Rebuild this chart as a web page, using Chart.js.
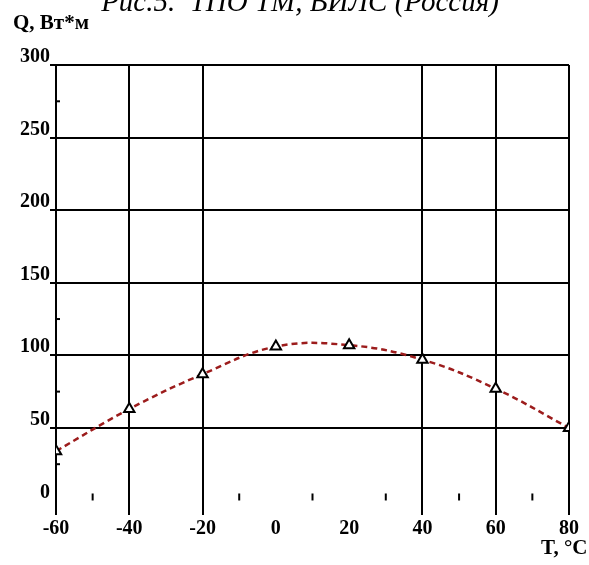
<!DOCTYPE html>
<html lang="ru">
<head>
  <meta charset="UTF-8">
  <title>Рис.5</title>
  <script src="https://cdn.jsdelivr.net/npm/chart.js"></script>
  <style>
    html, body { margin: 0; padding: 0; background: #fff; overflow: hidden; }
    #wrap { position: relative; width: 589px; height: 565px; }
    .lbl { position: absolute; font-family: "Liberation Serif", serif; color: #000; white-space: nowrap; }
    #title { top: -15px; left: 0; width: 600px; text-align: center; font-size: 29px; font-style: italic; }
    #ylab { top: 10px; left: 13px; font-size: 21px; font-weight: bold; }
    #xlab { top: 535px; left: 541px; font-size: 21px; font-weight: bold; }
  </style>
</head>
<body>
<div id="wrap">
  <canvas id="chart" width="589" height="565"></canvas>
  <div class="lbl" id="title">Рис.5.&nbsp; ТПО ТМ, ВИЛС (Россия)</div>
  <div class="lbl" id="ylab">Q, Вт*м</div>
  <div class="lbl" id="xlab">T, °C</div>
</div>
<script>
  const temps = [-60, -40, -20, 0, 20, 40, 60, 80];
  const heat = [34, 63, 87, 106, 107, 97, 77, 50];
  const xTicks = [-60, -40, -20, 0, 20, 40, 60, 80];
  const yTicks = [0, 50, 100, 150, 200, 250, 300];
  const xMinor = [-50, -10, 10, 30, 50, 70];
  const yMinor = [25, 75, 125, 275];
  const noGridX = [0, 20];

  const tickFont = { family: 'Liberation Serif', size: 20, weight: 'bold' };

  // short marks on the axes between the labelled ticks
  const minorMarks = {
    id: 'minorMarks',
    afterDatasetsDraw(chart) {
      const { ctx, scales: { x, y } } = chart;
      ctx.save();
      ctx.strokeStyle = '#000';
      ctx.lineWidth = 2;
      const y0 = y.getPixelForValue(0);
      xMinor.forEach(v => {
        const px = x.getPixelForValue(v);
        ctx.beginPath();
        ctx.moveTo(px, y0 - 7);
        ctx.lineTo(px, y0);
        ctx.stroke();
      });
      const x0 = x.getPixelForValue(-60);
      yMinor.forEach(v => {
        const py = y.getPixelForValue(v);
        ctx.beginPath();
        ctx.moveTo(x0, py);
        ctx.lineTo(x0 + 4, py);
        ctx.stroke();
      });
      ctx.restore();
    }
  };

  new Chart(document.getElementById('chart'), {
    type: 'line',
    data: {
      datasets: [{
        data: temps.map((t, i) => ({ x: t, y: heat[i] })),
        borderColor: '#9c1c1c',
        borderWidth: 2.5,
        borderDash: [6, 4],
        tension: 0.4,
        pointStyle: 'triangle',
        pointRadius: 6,
        pointBackgroundColor: '#fff',
        pointBorderColor: '#000',
        pointBorderWidth: 2
      }]
    },
    options: {
      responsive: false,
      animation: false,
      layout: { padding: { top: 65, right: 20, left: 0, bottom: 0 } },
      plugins: { legend: { display: false }, tooltip: { enabled: false }, title: { display: false } },
      scales: {
        x: {
          type: 'linear',
          min: -60,
          max: 80,
          afterBuildTicks: s => { s.ticks = xTicks.map(v => ({ value: v })); },
          afterFit: s => { s.height = 50; },
          border: { display: false },
          grid: {
            color: c => noGridX.includes(c.tick.value) ? 'rgba(0,0,0,0)' : '#000',
            lineWidth: 2,
            tickLength: 0
          },
          ticks: { color: '#000', font: tickFont, padding: 2, maxRotation: 0 }
        },
        y: {
          min: -10,
          max: 300,
          afterBuildTicks: s => { s.ticks = yTicks.map(v => ({ value: v })); },
          afterFit: s => { s.width = 56; },
          border: { display: false },
          grid: {
            color: c => c.tick.value === 0 ? 'rgba(0,0,0,0)' : '#000',
            lineWidth: 2,
            tickLength: 6
          },
          ticks: { color: '#000', font: tickFont, padding: 0, labelOffset: -8 }
        }
      }
    },
    plugins: [minorMarks]
  });
</script>
</body>
</html>
